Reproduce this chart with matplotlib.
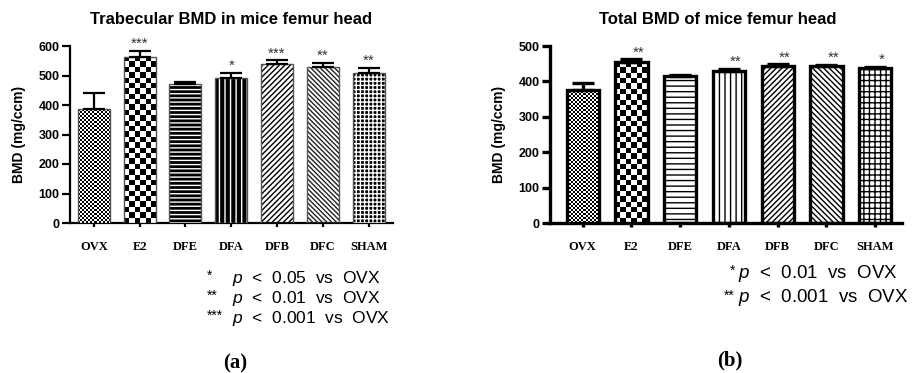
import numpy as np
import matplotlib.pyplot as plt

plt.rcParams['font.family'] = ['Liberation Sans', 'DejaVu Sans']
plt.rcParams['mathtext.fontset'] = 'custom'
plt.rcParams['mathtext.rm'] = 'Liberation Sans'
plt.rcParams['mathtext.it'] = 'Liberation Sans:italic'
plt.rcParams['hatch.linewidth'] = 1.0

# data
groups = ['OVX', 'E2', 'DFE', 'DFA', 'DFB', 'DFC', 'SHAM']
trab_mean = [386, 563, 471, 493, 540, 528, 510]
trab_sem = [55, 20, 7, 17, 11, 15, 17]
trab_stars = ['', '***', '', '*', '***', '**', '**']
total_mean = [376, 454, 414, 430, 443, 443, 437]
total_sem = [19, 8, 3, 5, 5, 3, 4]
total_stars = ['', '**', '', '**', '**', '**', '*']

trab_notes = [('*', '$\\mathit{p}$  <  0.05  vs  OVX'),
              ('**', '$\\mathit{p}$  <  0.01  vs  OVX'),
              ('***', '$\\mathit{p}$  <  0.001  vs  OVX')]
total_notes = [('*', '$\\mathit{p}$  <  0.01  vs  OVX'),
               ('**', '$\\mathit{p}$  <  0.001  vs  OVX')]

# fill styles: ('checker', cell px) or ('hatch', face, hatch colour, pattern)
left_fill = [('checker', 2), ('checker', 5.3),
             ('hatch', 'black', 'white', '----'), ('hatch', 'black', 'white', '|||'),
             ('hatch', 'white', 'black', '//////'), ('hatch', 'white', '#222222', '\\\\\\\\\\\\\\'),
             ('hatch', 'black', 'white', '++++')]
right_fill = [('checker', 2), ('checker', 5.3),
              ('hatch', 'white', 'black', '---'), ('hatch', 'white', 'black', '|||'),
              ('hatch', 'white', 'black', '//////'), ('hatch', 'white', 'black', '\\\\\\\\\\\\'),
              ('hatch', 'white', 'black', '+++')]

W, H = 920, 373
fig = plt.figure(figsize=(W / 100, H / 100), dpi=100)
ax1 = fig.add_axes([70 / W, 150 / H, 323 / W, 177 / H])
ax2 = fig.add_axes([550 / W, 150 / H, 352 / W, 177 / H])


def draw_panel(ax, means, sems, stars, fills, ymax, step, xlim, width,
               edge_col, edge_lw, spine_lw, star_dx):
    x = np.arange(len(means))
    ax.set_xlim(*xlim)
    ax.set_ylim(0, ymax)
    for i in range(len(means)):
        f = fills[i]
        face = 'white' if f[0] == 'checker' else f[1]
        base = ax.bar(x[i], means[i], width, color=face, edgecolor='none', zorder=2)[0]
        if f[0] == 'checker':
            bb = base.get_window_extent()
            nx = max(1, int(round(bb.width / f[1])))
            ny = max(1, int(round(bb.height / f[1])))
            grid = np.indices((ny, nx)).sum(axis=0) % 2
            im = ax.imshow(grid, cmap='gray', interpolation='nearest', aspect='auto',
                           extent=(x[i] - width / 2, x[i] + width / 2, 0, means[i]), zorder=3)
            im.set_clip_path(base)
        else:
            ax.bar(x[i], means[i], width, fill=False, hatch=f[3], edgecolor=f[2],
                   linewidth=0, zorder=3)
        ax.bar(x[i], means[i], width, fill=False, edgecolor=edge_col,
               linewidth=edge_lw, zorder=4)
    ax.errorbar(x, means, yerr=[np.zeros(len(means)), sems], fmt='none', ecolor='black',
                elinewidth=spine_lw, capsize=8, capthick=spine_lw, zorder=5)
    for i in range(len(means)):
        if stars[i]:
            ax.annotate(stars[i], (x[i], means[i] + sems[i]), xytext=(star_dx, 0),
                        textcoords='offset points', ha='center', va='bottom',
                        fontsize=11, color='#333333')
    ax.set_xlim(*xlim)
    ax.set_ylim(0, ymax)
    ax.set_yticks(np.arange(0, ymax + 1, step))
    ax.set_xticks(x)
    ax.set_xticklabels(groups, family='Liberation Serif', fontweight='bold', fontsize=9)
    for lab in ax.get_yticklabels():
        lab.set_fontweight('bold')
    ax.tick_params(axis='y', length=6, width=spine_lw, pad=1.5, labelsize=9)
    ax.tick_params(axis='x', length=3, width=spine_lw, pad=10)
    ax.set_ylabel('BMD (mg/ccm)', fontweight='bold', fontsize=10, labelpad=9)
    for s in ['top', 'right']:
        ax.spines[s].set_visible(False)
    for s in ['left', 'bottom']:
        ax.spines[s].set_linewidth(spine_lw)
    ax.set_facecolor('none')


draw_panel(ax1, trab_mean, trab_sem, trab_stars, left_fill, 600, 100,
           (-0.52, 6.53), 0.70, '#555555', 1.0, 1.6, 0)
draw_panel(ax2, total_mean, total_sem, total_stars, right_fill, 500, 100,
           (-0.67, 6.55), 0.66, 'black', 2.4, 2.4, 5)

fig.text(231 / W, 1 - 19 / H, 'Trabecular BMD in mice femur head', ha='center', va='center',
         fontsize=12, fontweight='bold')
fig.text(718 / W, 1 - 19 / H, 'Total BMD of mice femur head', ha='center', va='center',
         fontsize=12, fontweight='bold')

for k, (st, txt) in enumerate(trab_notes):
    y = 1 - (278 + 20 * k) / H
    fig.text(207 / W, y + 2 / H, st, ha='left', va='center', fontsize=10)
    fig.text(232 / W, y, txt, ha='left', va='center', fontsize=12.5)
for k, (st, txt) in enumerate(total_notes):
    y = 1 - (273 + 25 * k) / H
    fig.text(735 / W, y + 2 / H, st, ha='right', va='center', fontsize=10)
    fig.text(738 / W, y, txt, ha='left', va='center', fontsize=13.5)

fig.text(235 / W, 1 - 363 / H, '(a)', ha='center', va='center', family='Liberation Serif',
         fontweight='bold', fontsize=15)
fig.text(730 / W, 1 - 360 / H, '(b)', ha='center', va='center', family='Liberation Serif',
         fontweight='bold', fontsize=15)

fig.savefig('out.png', dpi=100)
